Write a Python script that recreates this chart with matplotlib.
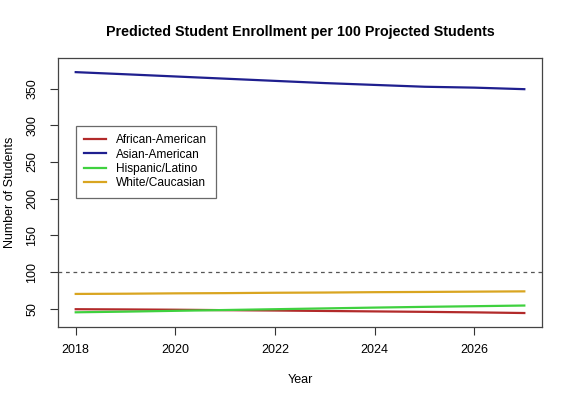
import matplotlib
matplotlib.use("Agg")
import matplotlib.pyplot as plt

plt.rcParams['font.family'] = ['Liberation Sans', 'DejaVu Sans']

# yearly predicted enrollment per 100 projected students
years = [2018, 2019, 2020, 2021, 2022, 2023, 2024, 2025, 2026, 2027]
african_american = [49.6, 49.3, 48.9, 48.3, 47.8, 47.2, 46.6, 46.0, 45.3, 44.4]
asian_american = [372.4, 369.5, 366.5, 363.5, 360.5, 357.5, 355.0, 352.5, 351.3, 349.2]
hispanic_latino = [45.4, 46.3, 47.4, 48.5, 49.6, 50.7, 51.8, 52.8, 53.7, 54.6]
white_caucasian = [70.4, 70.7, 71.2, 71.5, 72.0, 72.3, 72.8, 73.1, 73.5, 73.9]

series_names = ["African-American", "Asian-American", "Hispanic/Latino", "White/Caucasian"]
series_values = [african_american, asian_american, hispanic_latino, white_caucasian]
series_colors = ["#b22a2a", "#1f1f8f", "#3fd13f", "#d9a520"]

fig = plt.figure(figsize=(5.72, 4.0), dpi=100)
ax = fig.add_axes([0.101, 0.182, 0.847, 0.674])

for name, vals, col in zip(series_names, series_values, series_colors):
    ax.plot(years, vals, color=col, lw=1.6, label=name)

ax.axhline(100, color="#555555", lw=0.9, ls=(0, (3, 3)))

ax.set_xlim(2017.64, 2027.36)
ax.set_ylim(25.1, 392.2)
ax.set_xticks([2018, 2020, 2022, 2024, 2026])
ax.set_yticks([50, 100, 150, 200, 250, 300, 350])
ax.tick_params(labelsize=9, length=6, width=0.8, color="#333333")
ax.tick_params(axis="x", pad=6)
ax.tick_params(axis="y", pad=8, labelrotation=90)
for lab in ax.get_yticklabels():
    lab.set_va("center")

for s in ax.spines.values():
    s.set_color("#444444")
    s.set_linewidth(0.9)

ax.set_title("Predicted Student Enrollment per 100 Projected Students",
             fontsize=10.3, fontweight="bold", pad=15.5)
ax.set_xlabel("Year", fontsize=9, labelpad=13)
ax.set_ylabel("Number of Students", fontsize=9)
ax.yaxis.set_label_coords(-0.087, 0.5)

leg = ax.legend(loc="upper left", bbox_to_anchor=(0.037, 0.747), fontsize=8.6,
                frameon=True, fancybox=False, handlelength=1.85,
                borderpad=0.7, labelspacing=0.2, handletextpad=0.85,
                borderaxespad=0)
leg.get_frame().set_edgecolor("#444444")
leg.get_frame().set_linewidth(0.9)

fig.savefig("out.png", dpi=100)
